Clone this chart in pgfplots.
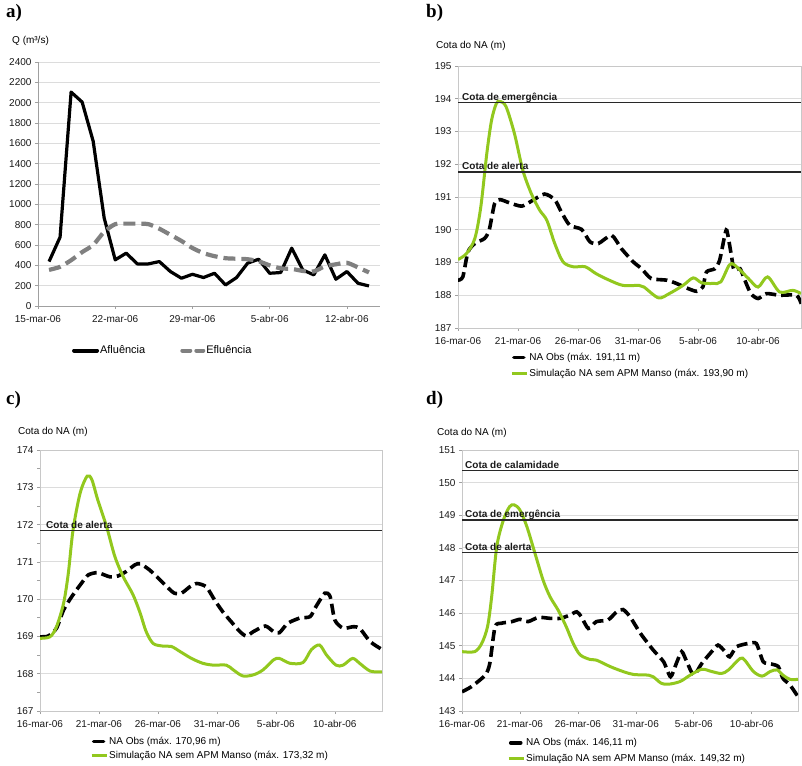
\documentclass[border=0pt]{standalone}
\usepackage{fontspec}
\setmainfont{Liberation Sans}
\newfontfamily\panelfont{Liberation Serif}
\usepackage{pgfplots}
\pgfplotsset{compat=1.18}
\definecolor{simgreen}{RGB}{146,200,30}
\definecolor{gridgray}{RGB}{220,220,220}
\definecolor{axgray}{RGB}{160,160,160}
\definecolor{framegray}{RGB}{200,200,200}
\definecolor{effgray}{RGB}{128,128,128}
\definecolor{reflinec}{RGB}{40,40,40}
\newcommand{\fs}{\fontsize{10}{12}\selectfont}
\tikzset{reflabel/.style={anchor=base west, font=\fs\bfseries, inner sep=0pt, text=black!90}}
\pgfplotsset{
  common/.style={
    scale only axis, anchor=south west,
    /pgf/number format/assume math mode=true,
    /pgf/number format/1000 sep={},
    tick label style={font=\fs, text=black!90},
    xticklabel style={yshift=-3pt},
    ymajorgrids, major grid style={gridgray, line width=0.8pt},
    tick align=outside, major tick length=3pt,
    tick style={axgray, line width=0.6pt},
    xtick pos=bottom, ytick pos=left,
  },
  cota/.style={
    common,
    axis line style={framegray, line width=0.8pt},
    xmin=0, xmax=29,
    xtick={0,5,10,15,20,25},
    xticklabels={16-mar-06,21-mar-06,26-mar-06,31-mar-06,5-abr-06,10-abr-06},
    ytick distance=1,
    legend style={draw=none, fill=none, font=\fs, inner sep=0pt, row sep=5pt,
      nodes={inner sep=1pt}},
    legend cell align=left,
  },
  obs/.style={black, line width=3.6pt, dash pattern=on 11pt off 5pt, smooth, tension=0.4,
    legend image code/.code={\draw[black, line width=3.6pt, line cap=round] (2pt,0pt) -- (12pt,0pt);}},
  sim/.style={simgreen, line width=3pt, smooth, tension=0.5,
    legend image code/.code={\draw[simgreen, line width=3pt] (0pt,0pt) -- (15pt,0pt);}},
  refl/.style={reflinec, line width=1.6pt},
}
\begin{document}
\begin{tikzpicture}
\path[use as bounding box] (0pt,0pt) rectangle (802pt,765pt);

% ---------------- a) ----------------
\begin{axis}[common,
  at={(38pt,459pt)}, width=342pt, height=244pt,
  axis x line*=bottom, axis y line*=left,
  axis line style={axgray, line width=0.8pt, -},
  xmin=0, xmax=31, ymin=0, ymax=2400,
  ytick distance=200,
  xtick={0,7,14,21,28},
  xticklabels={15-mar-06,22-mar-06,29-mar-06,5-abr-06,12-abr-06},
  legend columns=2,
  legend style={draw=none, fill=none, font=\fontsize{11}{13}\selectfont, inner sep=0pt,
    nodes={inner sep=1pt}, at={(0.099,-0.158)}, anchor=north west,
    /tikz/every even column/.append style={column sep=34pt}},
]
\addplot[black, line width=3.2pt, line join=round,
  legend image code/.code={\draw[black, line width=4pt, line cap=round] (0pt,0pt) -- (23pt,0pt);}]
coordinates {(1,437)(2,677)(3,2104)(4,2006)(5,1621)(6,865)(7,454)(8,520)(9,414)(10,414)
(11,437)(12,339)(13,273)(14,312)(15,280)(16,322)(17,207)(18,280)(19,421)(20,460)
(21,322)(22,329)(23,569)(24,355)(25,306)(26,503)(27,263)(28,339)(29,224)(30,197)};
\addlegendentry{Afluência}
\addplot[effgray, line width=4.2pt, dash pattern=on 12pt off 6pt, smooth, tension=0.4,
  legend image code/.code={\draw[effgray, line width=4pt, line cap=round] (2pt,0pt) -- (10pt,0pt) (16pt,0pt) -- (23pt,0pt);}]
coordinates {(1,355)(2,385)(3,450)(4,530)(5,600)(6,730)(7,805)(8,810)(9,810)(10,805)
(11,760)(12,700)(13,640)(14,570)(15,520)(16,490)(17,470)(18,465)(19,460)(20,440)
(21,400)(22,370)(23,365)(24,345)(25,340)(26,390)(27,410)(28,425)(29,380)(30,330)};
\addlegendentry{Efluência}
\end{axis}

% ---------------- b) ----------------
\begin{axis}[cota,
  at={(458pt,437pt)}, width=343pt, height=262pt,
  xmax=28.58, ymin=187, ymax=195,
  legend style={at={(0.152,-0.091)}, anchor=north west},
]
\addplot[obs] coordinates {(0,188.46)(0.4,188.56)(0.83,189.32)(1.4,189.58)(2.2,189.73)(2.6,189.99)
(3.05,190.80)(3.5,190.92)(4.3,190.82)(5.3,190.72)(6.1,190.87)(7.2,191.09)(8.06,190.92)
(8.6,190.55)(9.3,190.14)(10.3,190.01)(11.0,189.63)(11.7,189.58)(12.8,189.83)(13.6,189.43)
(14.6,189.02)(15.3,188.81)(16.1,188.51)(17.4,188.46)(18.2,188.36)(19.2,188.20)(19.9,188.12)
(20.4,188.25)(20.7,188.71)(21.4,188.81)(21.8,189.07)(22.2,189.78)(22.4,189.98)(22.8,189.17)
(23.0,188.76)(23.5,188.81)(23.9,188.46)(24.4,188.05)(25.0,187.90)(25.7,188.05)(26.8,188.00)
(28.2,188.00)(28.6,187.74)};
\addlegendentry{NA Obs (máx. 191,11 m)}
\addplot[sim] coordinates {(0,189.09)(0.7,189.27)(1.4,189.73)(1.9,190.70)(2.4,192.33)(2.8,193.35)
(3.2,193.86)(3.5,193.92)(4.0,193.76)(4.7,192.94)(5.4,191.82)(6.1,191.11)(6.8,190.60)
(7.4,190.29)(8.06,189.58)(8.75,189.02)(9.6,188.87)(10.6,188.87)(11.5,188.66)(12.6,188.46)
(13.75,188.30)(15.1,188.30)(15.5,188.25)(16.7,187.92)(17.6,188.05)(18.75,188.30)(19.6,188.53)
(20.3,188.38)(21.25,188.36)(21.9,188.41)(22.6,188.92)(23.05,188.92)(24.2,188.51)(25.0,188.25)
(25.8,188.56)(26.8,188.10)(27.9,188.15)(28.58,188.05)};
\addlegendentry{Simulação NA sem APM Manso (máx. 193,90 m)}
\addplot[refl, forget plot] coordinates {(0,193.88)(28.58,193.88)};
\addplot[refl, forget plot] coordinates {(0,191.77)(28.58,191.77)};
\node[reflabel, xshift=4pt, yshift=2pt] at (axis cs:0,193.88) {Cota de emergência};
\node[reflabel, xshift=4pt, yshift=2pt] at (axis cs:0,191.77) {Cota de alerta};
\end{axis}

% ---------------- c) ----------------
\begin{axis}[cota,
  at={(40pt,54pt)}, width=342pt, height=261pt,
  ymin=167, ymax=174,
  minor y tick num=1, minor tick length=3pt,
  legend style={at={(0.146,-0.095)}, anchor=north west, row sep=3pt},
]
\addplot[obs] coordinates {(0,168.99)(0.7,169.01)(1.4,169.22)(2.0,169.71)(2.7,170.07)(3.5,170.42)
(4.1,170.65)(4.9,170.71)(5.9,170.60)(6.6,170.62)(7.3,170.74)(8.05,170.92)(8.5,170.95)
(9.3,170.78)(10.2,170.51)(10.9,170.29)(11.4,170.16)(12.0,170.16)(12.7,170.33)(13.3,170.42)
(14.1,170.33)(14.8,169.98)(15.5,169.66)(16.2,169.40)(16.95,169.13)(17.5,169.01)(18.1,169.13)
(19.1,169.28)(19.8,169.13)(20.3,169.10)(21.0,169.35)(22.0,169.49)(22.9,169.53)(23.4,169.80)
(24.15,170.16)(24.6,170.07)(25.0,169.44)(25.7,169.22)(26.55,169.26)(27.1,169.22)(28.0,168.86)
(29.0,168.65)};
\addlegendentry{NA Obs (máx. 170,96 m)}
\addplot[sim] coordinates {(0,168.95)(0.85,168.99)(1.4,169.26)(2.0,169.89)(2.4,170.69)(2.8,171.85)
(3.4,172.84)(4.0,173.30)(4.4,173.20)(4.9,172.66)(5.65,171.94)(6.35,171.14)(7.06,170.60)
(7.9,170.11)(8.5,169.62)(9.0,169.13)(9.6,168.81)(10.45,168.74)(11.15,168.73)(11.9,168.59)
(12.85,168.41)(13.8,168.28)(14.7,168.23)(15.8,168.23)(16.4,168.10)(17.2,167.94)(18.1,167.97)
(18.9,168.10)(19.8,168.37)(20.3,168.41)(21.2,168.28)(22.3,168.30)(23.0,168.64)(23.7,168.77)
(24.3,168.50)(25.1,168.23)(25.7,168.23)(26.5,168.41)(27.1,168.28)(28.0,168.07)(29.0,168.05)};
\addlegendentry{Simulação NA sem APM Manso (máx. 173,32 m)}
\addplot[refl, forget plot] coordinates {(0,171.84)(29,171.84)};
\node[reflabel, xshift=6pt, yshift=2pt] at (axis cs:0,171.84) {Cota de alerta};
\end{axis}

% ---------------- d) ----------------
\begin{axis}[cota,
  at={(462pt,54pt)}, width=336pt, height=261pt,
  ymin=143, ymax=151,
  legend style={at={(0.134,-0.10)}, anchor=north west},
]
\addplot[obs] coordinates {(0,143.59)(0.83,143.75)(2.0,144.10)(2.4,144.46)(2.85,145.58)(3.4,145.69)
(4.3,145.74)(5.0,145.81)(5.7,145.74)(6.6,145.87)(7.6,145.84)(8.5,145.84)(9.3,145.94)
(9.9,146.04)(10.3,145.89)(10.9,145.53)(11.6,145.74)(12.6,145.79)(13.35,146.04)(13.9,146.11)
(14.5,145.89)(15.4,145.38)(16.5,144.87)(17.4,144.51)(18.0,144.05)(18.5,144.46)(18.96,144.82)
(19.4,144.51)(20.0,144.10)(20.7,144.46)(21.55,144.82)(22.1,145.02)(22.7,144.82)(23.1,144.66)
(23.7,144.97)(24.7,145.07)(25.4,145.07)(26.0,144.51)(26.7,144.44)(27.3,144.36)(27.7,144.00)
(28.3,143.80)(29.0,143.44)};
\addlegendentry{NA Obs (máx. 146,11 m)}
\addplot[sim] coordinates {(0,144.82)(1.1,144.82)(1.7,145.07)(2.2,145.58)(2.56,146.50)(3.0,148.04)
(3.57,148.85)(4.1,149.26)(4.5,149.32)(5.0,149.16)(5.6,148.65)(6.3,147.83)(7.0,147.01)
(7.6,146.50)(8.3,146.09)(9.0,145.58)(9.6,145.07)(10.2,144.72)(11.05,144.58)(11.6,144.56)
(12.8,144.36)(13.9,144.21)(14.8,144.12)(16.1,144.10)(16.5,144.05)(17.2,143.85)(17.8,143.82)
(18.8,143.90)(19.7,144.10)(20.7,144.28)(21.55,144.21)(22.4,144.15)(23.0,144.26)(24.0,144.61)
(24.4,144.56)(25.15,144.21)(25.9,144.07)(26.6,144.21)(27.2,144.26)(27.7,144.10)(28.3,143.97)
(29.0,143.97)};
\addlegendentry{Simulação NA sem APM Manso (máx. 149,32 m)}
\addplot[refl, forget plot] coordinates {(0,150.37)(29,150.37)};
\addplot[refl, forget plot] coordinates {(0,148.86)(29,148.86)};
\addplot[refl, forget plot] coordinates {(0,147.86)(29,147.86)};
\node[reflabel, xshift=3pt, yshift=2pt] at (axis cs:0,150.37) {Cota de calamidade};
\node[reflabel, xshift=3pt, yshift=2pt] at (axis cs:0,148.86) {Cota de emergência};
\node[reflabel, xshift=3pt, yshift=2pt] at (axis cs:0,147.86) {Cota de alerta};
\end{axis}

% ---------------- labels ----------------
\node[anchor=north west, inner sep=0pt, font=\panelfont\bfseries\fontsize{19}{22}\selectfont] at (6pt,761pt) {a)};
\node[anchor=north west, inner sep=0pt, font=\panelfont\bfseries\fontsize{19}{22}\selectfont] at (426pt,761pt) {b)};
\node[anchor=north west, inner sep=0pt, font=\panelfont\bfseries\fontsize{19}{22}\selectfont] at (6pt,374pt) {c)};
\node[anchor=north west, inner sep=0pt, font=\panelfont\bfseries\fontsize{19}{22}\selectfont] at (426pt,374pt) {d)};
\node[anchor=west, inner sep=0pt, font=\fs] at (12pt,724pt) {Q (m³/s)};
\node[anchor=west, inner sep=0pt, font=\fs] at (436pt,719pt) {Cota do NA (m)};
\node[anchor=west, inner sep=0pt, font=\fs] at (18pt,333pt) {Cota do NA (m)};
\node[anchor=west, inner sep=0pt, font=\fs] at (437pt,332pt) {Cota do NA (m)};
\end{tikzpicture}
\end{document}
